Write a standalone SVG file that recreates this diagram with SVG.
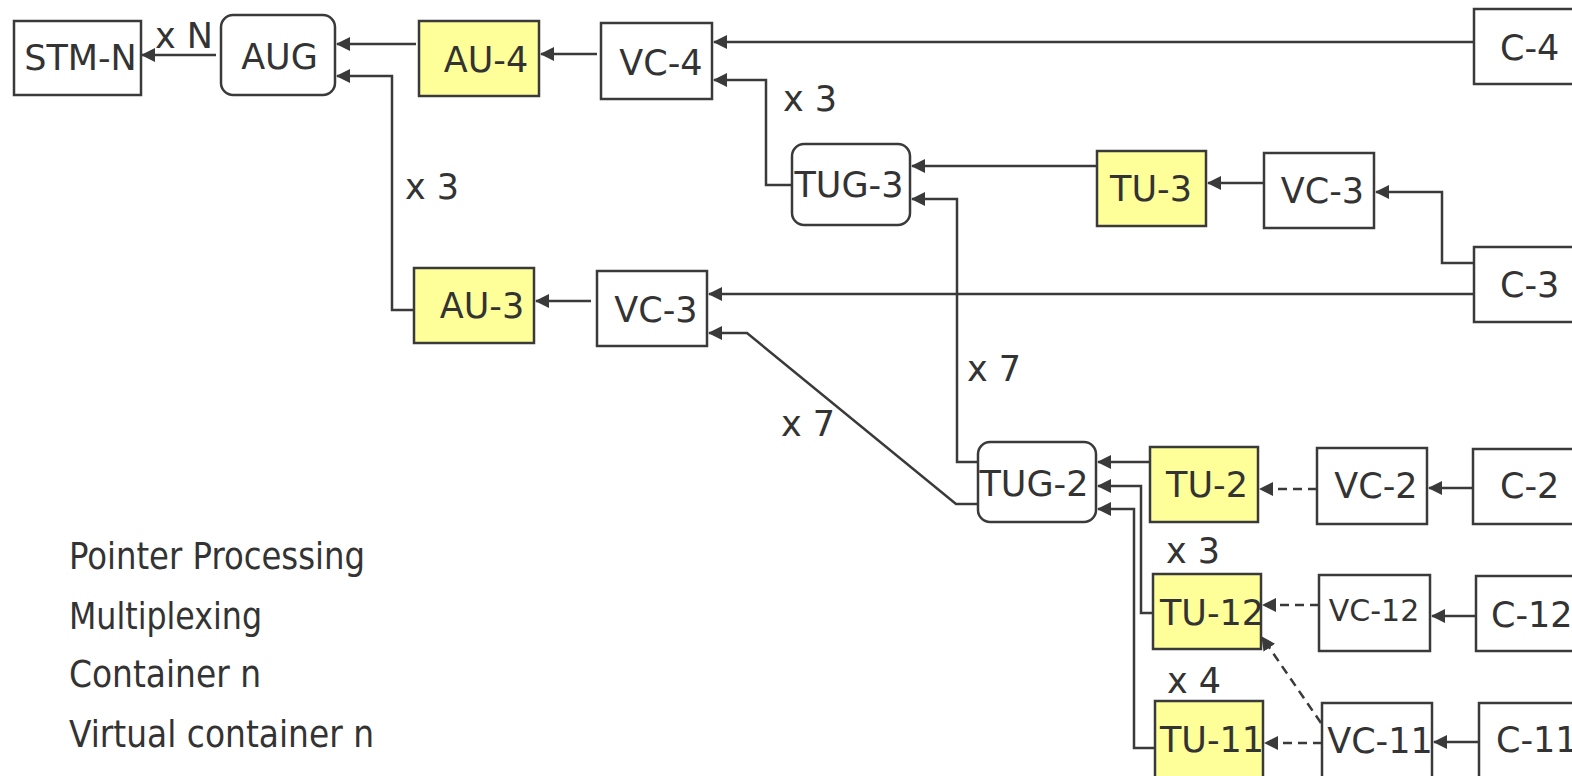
<svg xmlns="http://www.w3.org/2000/svg" width="1572" height="776" viewBox="0 0 1572 776">
<defs>
<style>
.box{fill:#fff;stroke:#3a3a3a;stroke-width:2.5}
.y{fill:#ffff99}
text{font-family:"DejaVu Sans","Verdana",sans-serif;font-size:35px;fill:#333}
.m{text-anchor:middle}
.lg{font-family:"DejaVu Sans Condensed","DejaVu Sans",sans-serif;font-stretch:condensed;font-size:38px}
.c{fill:none;stroke:#3a3a3a;stroke-width:2.5;marker-end:url(#ah)}
.d{stroke-dasharray:9 6}
</style>
<marker id="ah" viewBox="0 0 14 14" refX="13" refY="7" markerWidth="14" markerHeight="14" markerUnits="userSpaceOnUse" orient="auto">
<path d="M0,0 L14,7 L0,14 z" fill="#3a3a3a"/>
</marker>
</defs>
<rect width="1572" height="776" fill="#fff"/>
<g id="connectors">
<path class="c" d="M216,55 H142"/>
<path class="c" d="M416,44 H337"/>
<path class="c" d="M414,310 H392 V76 H337"/>
<path class="c" d="M597,54 H541"/>
<path class="c" d="M591,301 H536"/>
<path class="c" d="M1474,42 H714"/>
<path class="c" d="M792,185 H766 V80 H714"/>
<path class="c" d="M1097,166 H912"/>
<path class="c" d="M1264,183 H1208"/>
<path class="c" d="M1474,263 H1442 V192 H1376"/>
<path class="c" d="M1474,294 H709"/>
<path class="c" d="M978,462 H957 V199 H912"/>
<path class="c" d="M978,504 H956 L747,333 H709"/>
<path class="c" d="M1150,462 H1098"/>
<path class="c" d="M1153,613 H1141 V486 H1098"/>
<path class="c" d="M1155,748 H1134 V509 H1098"/>
<path class="c d" d="M1317,489 H1260"/>
<path class="c" d="M1473,488 H1429"/>
<path class="c d" d="M1319,605 H1263"/>
<path class="c" d="M1476,616 H1432"/>
<path class="c d" d="M1322,743 H1265"/>
<path class="c" d="M1479,742 H1434"/>
<path class="c d" d="M1321,723 L1262,637"/>
</g>
<g id="STM-N"><rect class="box" x="14" y="21" width="127" height="74"/><text class="m" x="80.5" y="70">STM-N</text></g>
<g id="AUG"><rect class="box" x="221" y="15" width="114" height="80" rx="12"/><text class="m" x="279.5" y="69">AUG</text></g>
<g id="AU-4"><rect class="box y" x="419" y="21" width="120" height="75"/><text class="m" x="486" y="72">AU-4</text></g>
<g id="VC-4"><rect class="box" x="601" y="23" width="111" height="76"/><text class="m" x="661" y="75">VC-4</text></g>
<g id="C-4"><rect class="box" x="1474" y="9" width="110" height="75"/><text x="1500" y="60">C-4</text></g>
<g id="TUG-3"><rect class="box" x="792" y="144" width="118" height="81" rx="12"/><text class="m" x="849" y="197">TUG-3</text></g>
<g id="TU-3"><rect class="box y" x="1097" y="151" width="109" height="75"/><text class="m" x="1151" y="201">TU-3</text></g>
<g id="VC-3a"><rect class="box" x="1264" y="153" width="110" height="75"/><text class="m" x="1322.5" y="203">VC-3</text></g>
<g id="C-3"><rect class="box" x="1474" y="247" width="110" height="75"/><text x="1500" y="297">C-3</text></g>
<g id="AU-3"><rect class="box y" x="414" y="268" width="120" height="75"/><text class="m" x="482" y="318">AU-3</text></g>
<g id="VC-3b"><rect class="box" x="597" y="271" width="110" height="75"/><text class="m" x="656" y="322">VC-3</text></g>
<g id="TUG-2"><rect class="box" x="978" y="442" width="118" height="80" rx="12"/><text class="m" x="1034" y="496">TUG-2</text></g>
<g id="TU-2"><rect class="box y" x="1150" y="447" width="108" height="75"/><text class="m" x="1207" y="497">TU-2</text></g>
<g id="VC-2"><rect class="box" x="1317" y="448" width="110" height="76"/><text class="m" x="1376" y="498">VC-2</text></g>
<g id="C-2"><rect class="box" x="1473" y="449" width="110" height="75"/><text x="1500" y="498">C-2</text></g>
<g id="TU-12"><rect class="box y" x="1153" y="574" width="108" height="75"/><text class="m" x="1212" y="625">TU-12</text></g>
<g id="VC-12"><rect class="box" x="1319" y="575" width="111" height="76"/><text class="m" x="1374" y="621" style="font-size:30px">VC-12</text></g>
<g id="C-12"><rect class="box" x="1476" y="576" width="110" height="75"/><text x="1491" y="627">C-12</text></g>
<g id="TU-11"><rect class="box y" x="1155" y="701" width="108" height="80"/><text class="m" x="1212" y="752">TU-11</text></g>
<g id="VC-11"><rect class="box" x="1322" y="703" width="110" height="80"/><text class="m" x="1380" y="753">VC-11</text></g>
<g id="C-11"><rect class="box" x="1479" y="703" width="110" height="80"/><text x="1496" y="752">C-11</text></g>
<g id="labels">
<text x="155" y="48">x N</text>
<text x="405" y="199">x 3</text>
<text x="783" y="111">x 3</text>
<text x="967" y="381">x 7</text>
<text x="781" y="436">x 7</text>
<text x="1166" y="563">x 3</text>
<text x="1167" y="693">x 4</text>
</g>
<g id="legend">
<text class="lg" x="69" y="569" textLength="296" lengthAdjust="spacingAndGlyphs">Pointer Processing</text>
<text class="lg" x="69" y="629" textLength="193" lengthAdjust="spacingAndGlyphs">Multiplexing</text>
<text class="lg" x="69" y="687" textLength="192" lengthAdjust="spacingAndGlyphs">Container n</text>
<text class="lg" x="69" y="747" textLength="305" lengthAdjust="spacingAndGlyphs">Virtual container n</text>
</g>
</svg>
